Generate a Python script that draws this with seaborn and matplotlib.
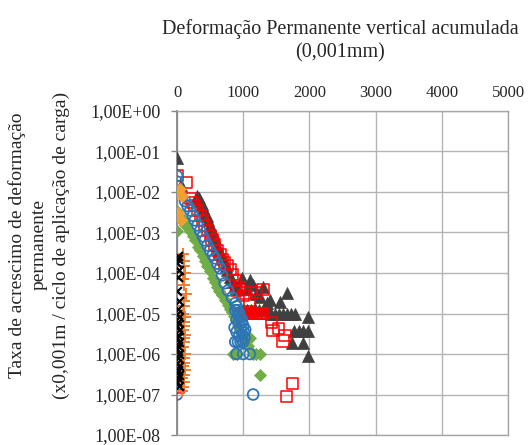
import matplotlib
matplotlib.use("Agg")
import matplotlib.pyplot as plt
import seaborn as sns
import pandas as pd
from matplotlib.ticker import FuncFormatter, FixedLocator

# ---------------- data ----------------
tri_x = [0, 60, 300, 330, 350, 380, 400, 430, 450, 470, 500, 520, 540, 560, 580, 610,
         640, 660, 680, 720, 740, 760, 800, 820, 840, 880, 920, 980, 1100, 1300, 1360,
         1560, 1660, 1420, 1480, 1540, 1600, 1660, 1720, 1780, 1000, 1060, 1120, 1180,
         1240, 1300, 1360, 1770, 1840, 1910, 1980, 1740, 1900, 1980, 1980, 1250, 1400,
         1200, 1050, 1150]
tri_y = [7e-2, 1.5e-2, 8e-3, 7e-3, 6e-3, 5e-3, 4e-3, 3e-3, 2.5e-3, 2e-3, 1.5e-3,
         1.2e-3, 1e-3, 8e-4, 7e-4, 5e-4, 3.5e-4, 3e-4, 2.5e-4, 1.8e-4, 1.5e-4, 1.2e-4,
         8e-5, 7e-5, 6e-5, 5e-5, 4e-5, 7.4e-5, 6.6e-5, 4.5e-5, 1.8e-5, 1.9e-5, 3.2e-5,
         1e-5, 1e-5, 1e-5, 1e-5, 1e-5, 1e-5, 1e-5, 1.2e-5, 1.2e-5, 1.2e-5, 1.3e-5,
         1.2e-5, 1.2e-5, 1.2e-5, 3.8e-6, 3.8e-6, 3.8e-6, 3.8e-6, 1.9e-6, 1.9e-6, 9e-7,
         8e-6, 2.5e-5, 2.2e-5, 3e-5, 4e-5, 5e-5]

sq_x = [0, 140, 200, 240, 270, 310, 350, 390, 420, 460, 500, 530, 570, 610, 650, 690,
        720, 760, 800, 840, 880, 950, 1030, 1100, 900, 1000, 1200, 1300, 960, 980, 1000,
        1020, 1040, 1060, 1080, 1100, 1120, 1140, 1160, 1180, 1200, 1220, 1240, 1260,
        1280, 1300, 1430, 1530, 1630, 1450, 1600, 1740, 1660, 0, 20]
sq_y = [2.6e-2, 1.7e-2, 7e-3, 5.5e-3, 4.6e-3, 3.5e-3, 2.6e-3, 2e-3, 1.5e-3, 1.1e-3,
        8.6e-4, 6.5e-4, 4.9e-4, 3.6e-4, 2.8e-4, 2.2e-4, 1.8e-4, 1.5e-4, 1.2e-4, 9e-5,
        6.6e-5, 4.3e-5, 3.2e-5, 2.1e-5, 3.7e-5, 2.8e-5, 3.3e-5, 4e-5, 1e-5, 1e-5, 1e-5,
        1e-5, 1e-5, 1e-5, 1e-5, 1e-5, 1e-5, 1e-5, 1e-5, 1e-5, 1e-5, 1e-5, 1e-5, 1e-5,
        1e-5, 1e-5, 6e-6, 4.3e-6, 2.9e-6, 3.8e-6, 2.1e-6, 1.9e-7, 9e-8, 1.8e-7, 1.5e-7]

dia_x = [0, 0, 120, 200, 240, 270, 310, 350, 390, 420, 460, 500, 540, 570, 600, 640,
         680, 720, 770, 800, 830, 860, 890, 920, 950, 980, 1010, 1040, 1070, 850, 900,
         1150, 1200, 1250, 1000, 1100, 1250, 0, 100, 150]
dia_y = [3.4e-3, 1.1e-3, 1.5e-3, 1.1e-3, 8e-4, 6.4e-4, 4.5e-4, 3.6e-4, 2.6e-4, 2e-4,
         1.5e-4, 1.1e-4, 7.4e-5, 6e-5, 4.4e-5, 3.5e-5, 2.8e-5, 2.2e-5, 1.6e-5, 1.3e-5,
         1.1e-5, 8.5e-6, 6.8e-6, 5e-6, 3.8e-6, 2.8e-6, 2.1e-6, 1.8e-6, 1.6e-6, 1e-6,
         1e-6, 1e-6, 1e-6, 1e-6, 3e-6, 2.5e-6, 3e-7, 3.5e-7, 2e-3, 1.5e-3]

circ_x = [0, 0, 120, 160, 200, 240, 270, 310, 350, 390, 420, 460, 500, 540, 570, 610,
          650, 680, 720, 770, 830, 880, 900, 920, 940, 960, 980, 1000, 900, 930, 960,
          990, 1020, 870, 900, 940, 980, 1010, 880, 920, 960, 1000, 880, 930, 980, 1030,
          900, 1000, 1100, 1150, 0]
circ_y = [2.5e-2, 1.8e-2, 6e-3, 4.5e-3, 3.5e-3, 2.6e-3, 2e-3, 1.5e-3, 1.1e-3, 8e-4,
          6.4e-4, 4.8e-4, 3.6e-4, 2.8e-4, 2.3e-4, 1.7e-4, 1.3e-4, 8.8e-5, 5.6e-5,
          3.7e-5, 2.5e-5, 1.8e-5, 1.5e-5, 1.2e-5, 1e-5, 8e-6, 6e-6, 5e-6, 7e-6, 6e-6,
          4e-6, 3e-6, 2.5e-6, 4.5e-6, 3.5e-6, 2.8e-6, 2.2e-6, 3.5e-6, 2e-6, 2e-6, 2e-6,
          2e-6, 1.2e-5, 9e-6, 7e-6, 4e-6, 1e-6, 1e-6, 1e-6, 1e-7, 1e-7]

gold_x = [0, 40, 80, 20, 60]
gold_y = [1e-2, 1.2e-2, 8e-3, 3e-3, 2e-3]

plus_x = [90, 110, 100, 120, 90, 110, 130, 100, 110, 90, 120, 100, 110, 90, 120, 100,
          110, 90, 120, 100, 110, 90, 120, 100, 80, 110, 90, 70]
plus_y = [3e-4, 2e-4, 1.5e-4, 1e-4, 7e-5, 5e-5, 3e-5, 2e-5, 1.5e-5, 1e-5, 8e-6, 6e-6,
          5e-6, 4e-6, 3e-6, 2.5e-6, 2e-6, 1.5e-6, 1e-6, 8e-7, 6e-7, 5e-7, 4e-7, 3e-7,
          2.5e-7, 2e-7, 1.5e-7, 1.2e-7]

x_x = [20, 0, 30, 10, 0, 30, 10, 0, 30, 10, 0, 30, 10, 0, 30, 10, 0, 30, 10, 0, 30,
       10, 0, 30, 10, 0, 30, 10]
x_y = [2.7e-4, 1.8e-4, 1.2e-4, 8e-5, 3.5e-5, 2e-5, 1.3e-5, 1e-5, 8e-6, 6e-6, 5e-6,
       4e-6, 3e-6, 2.5e-6, 2e-6, 1.6e-6, 1.3e-6, 1e-6, 8e-7, 6e-7, 5e-7, 4e-7, 3.5e-7,
       3e-7, 2.5e-7, 2e-7, 1.6e-7, 2.2e-4]

x_ticks = [0, 1000, 2000, 3000, 4000, 5000]
y_ticks = [1e0, 1e-1, 1e-2, 1e-3, 1e-4, 1e-5, 1e-6, 1e-7, 1e-8]

title = "Deformação Permanente vertical acumulada\n(0,001mm)"
ylabel = ("Taxa de acrescimo de deformação\npermanente\n"
          "(x0,001m / ciclo de aplicação de carga)")

# ---------------- plot ----------------
sns.set_style("white")
plt.rcParams["font.family"] = ["Liberation Serif", "DejaVu Serif"]

fig = plt.figure(figsize=(5.29, 4.45), dpi=100)
ax = fig.add_axes([177 / 529, 1 - 435 / 445, (508 - 177) / 529, (435 - 111) / 445])

def scat(xs, ys, **kw):
    df = pd.DataFrame({"x": xs, "y": ys})
    sns.scatterplot(data=df, x="x", y="y", ax=ax, legend=False, zorder=3, **kw)

scat(tri_x, tri_y, marker="^", s=75, color="#404040", edgecolor="#404040", linewidth=0.5)
scat(sq_x, sq_y, marker="s", s=65, facecolor="none", edgecolor="#FF0000", linewidth=1.1)
scat(dia_x, dia_y, marker="D", s=38, color="#70AD47", edgecolor="#70AD47", linewidth=0.5)
scat(circ_x, circ_y, marker="o", s=60, facecolor="none", edgecolor="#2E75B6", linewidth=1.3)
scat(gold_x, gold_y, marker="D", s=38, color="#F0A030", edgecolor="#F0A030", linewidth=0.5)
scat(plus_x, plus_y, marker="+", s=70, color="#ED7D31", linewidth=1.4)
scat(x_x, x_y, marker="x", s=40, color="black", linewidth=1.6)

ax.set_yscale("log")
ax.set_xlim(0, 5000)
ax.set_ylim(1e-8, 1)
ax.xaxis.set_major_locator(FixedLocator(x_ticks))
ax.yaxis.set_major_locator(FixedLocator(y_ticks))
ax.yaxis.set_minor_locator(FixedLocator([]))
ax.yaxis.set_major_formatter(FuncFormatter(lambda v, p: f"{v:.2E}".replace(".", ",")))
ax.xaxis.tick_top()
ax.tick_params(axis="x", which="both", length=0, pad=7, labelsize=12)
ax.tick_params(axis="y", which="major", length=4, width=1, color="#868686",
               direction="out", pad=8, labelsize=13, left=True)
ax.grid(True, color="#B4B4B4", linewidth=1.0)
ax.set_axisbelow(True)
for side, sp in ax.spines.items():
    sp.set_visible(True)
    sp.set_color("#A6A6A6")
    sp.set_linewidth(1.0)
ax.spines["left"].set_color("#868686")
ax.spines["left"].set_linewidth(1.3)
ax.set_xlabel("")
ax.set_ylabel("")

fig.text(340 / 529, 1 - 41 / 445, title, ha="center", va="center", fontsize=14.5,
         linespacing=1.3)
fig.text(39 / 529, 1 - 245 / 445, ylabel, ha="center", va="center", rotation=90,
         fontsize=14, linespacing=1.4, multialignment="center")

fig.savefig("out.png", dpi=100)
